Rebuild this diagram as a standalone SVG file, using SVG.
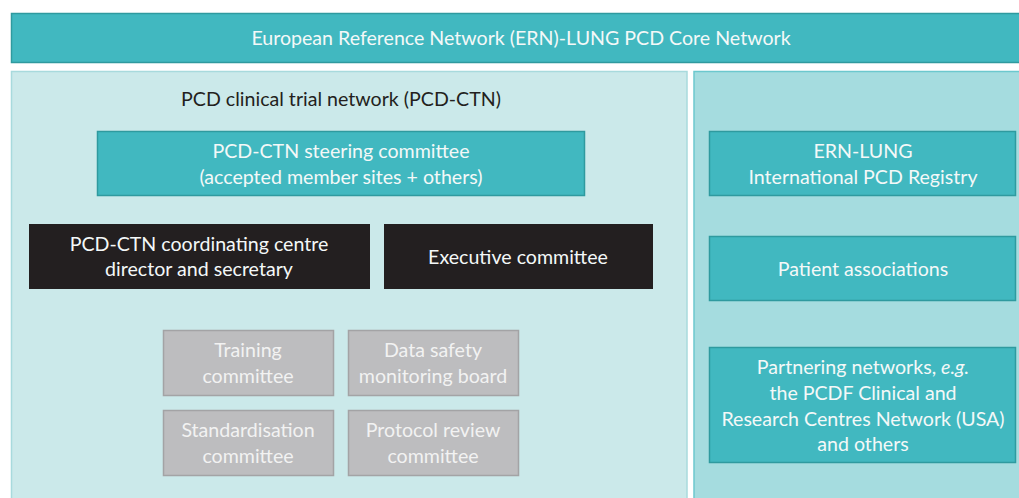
<svg xmlns="http://www.w3.org/2000/svg" width="1019" height="498" viewBox="0 0 1019 498">
<style>
text{font-family:Lato,"Liberation Sans",sans-serif;font-size:19.6px;text-anchor:middle;dominant-baseline:central}
.teal{fill:#41B8C0;stroke:#2F9A9F;stroke-width:1.5}
.blk{fill:#231F20}
.gray{fill:#BDBDBF;stroke:#A3A3A5;stroke-width:1.5}
.w{fill:#F4F8F8}
.g{fill:#F2F2F2}
.d{fill:#231F20}
</style>
<rect width="1019" height="498" fill="#FFFFFF"/>
<g id="core">
<rect class="teal" x="11.5" y="13.5" width="1010" height="49"/>
<text class="w" x="521" y="37">European Reference Network (ERN)-LUNG PCD Core Network</text>
</g>
<g id="ctn">
<rect x="11.5" y="71.5" width="675.5" height="430" fill="#CBE9EA" stroke="#A8DADD" stroke-width="1.5"/>
<text class="d" x="341" y="98">PCD clinical trial network (PCD-CTN)</text>
</g>
<g id="right">
<rect x="694" y="71.5" width="330" height="430" fill="#A5DCDF" stroke="#6CC8CE" stroke-width="1.5"/>
</g>
<g id="steering">
<rect class="teal" x="97.5" y="131.5" width="487" height="64"/>
<text class="w" x="341" y="150">PCD-CTN steering committee</text>
<text class="w" x="341" y="176">(accepted member sites + others)</text>
</g>
<g id="coord">
<rect class="blk" x="29" y="224" width="341" height="65"/>
<text class="w" x="199" y="243">PCD-CTN coordinating centre</text>
<text class="w" x="199" y="268">director and secretary</text>
</g>
<g id="exec">
<rect class="blk" x="384" y="224" width="269" height="65"/>
<text class="w" x="518" y="256">Executive committee</text>
</g>
<g id="training">
<rect class="gray" x="163.5" y="330.5" width="170" height="65"/>
<text class="g" x="248" y="349">Training</text>
<text class="g" x="248" y="375">committee</text>
</g>
<g id="dsmb">
<rect class="gray" x="348.5" y="330.5" width="170" height="65"/>
<text class="g" x="433" y="349">Data safety</text>
<text class="g" x="433" y="375">monitoring board</text>
</g>
<g id="standard">
<rect class="gray" x="163.5" y="410.5" width="170" height="65"/>
<text class="g" x="248" y="429">Standardisation</text>
<text class="g" x="248" y="455">committee</text>
</g>
<g id="protocol">
<rect class="gray" x="348.5" y="410.5" width="170" height="65"/>
<text class="g" x="433" y="429">Protocol review</text>
<text class="g" x="433" y="455">committee</text>
</g>
<g id="registry">
<rect class="teal" x="709.5" y="131.5" width="306" height="64"/>
<text class="w" x="863" y="150">ERN-LUNG</text>
<text class="w" x="863" y="176">International PCD Registry</text>
</g>
<g id="patients">
<rect class="teal" x="709.5" y="236.5" width="306" height="64"/>
<text class="w" x="863" y="268">Patient associations</text>
</g>
<g id="partners">
<rect class="teal" x="709.5" y="347.5" width="306" height="115"/>
<text class="w" x="863" y="366">Partnering networks, <tspan font-style="italic">e.g.</tspan></text>
<text class="w" x="863" y="392">the PCDF Clinical and</text>
<text class="w" x="863" y="418">Research Centres Network (USA)</text>
<text class="w" x="863" y="443">and others</text>
</g>
<g id="connectors"></g>
</svg>
